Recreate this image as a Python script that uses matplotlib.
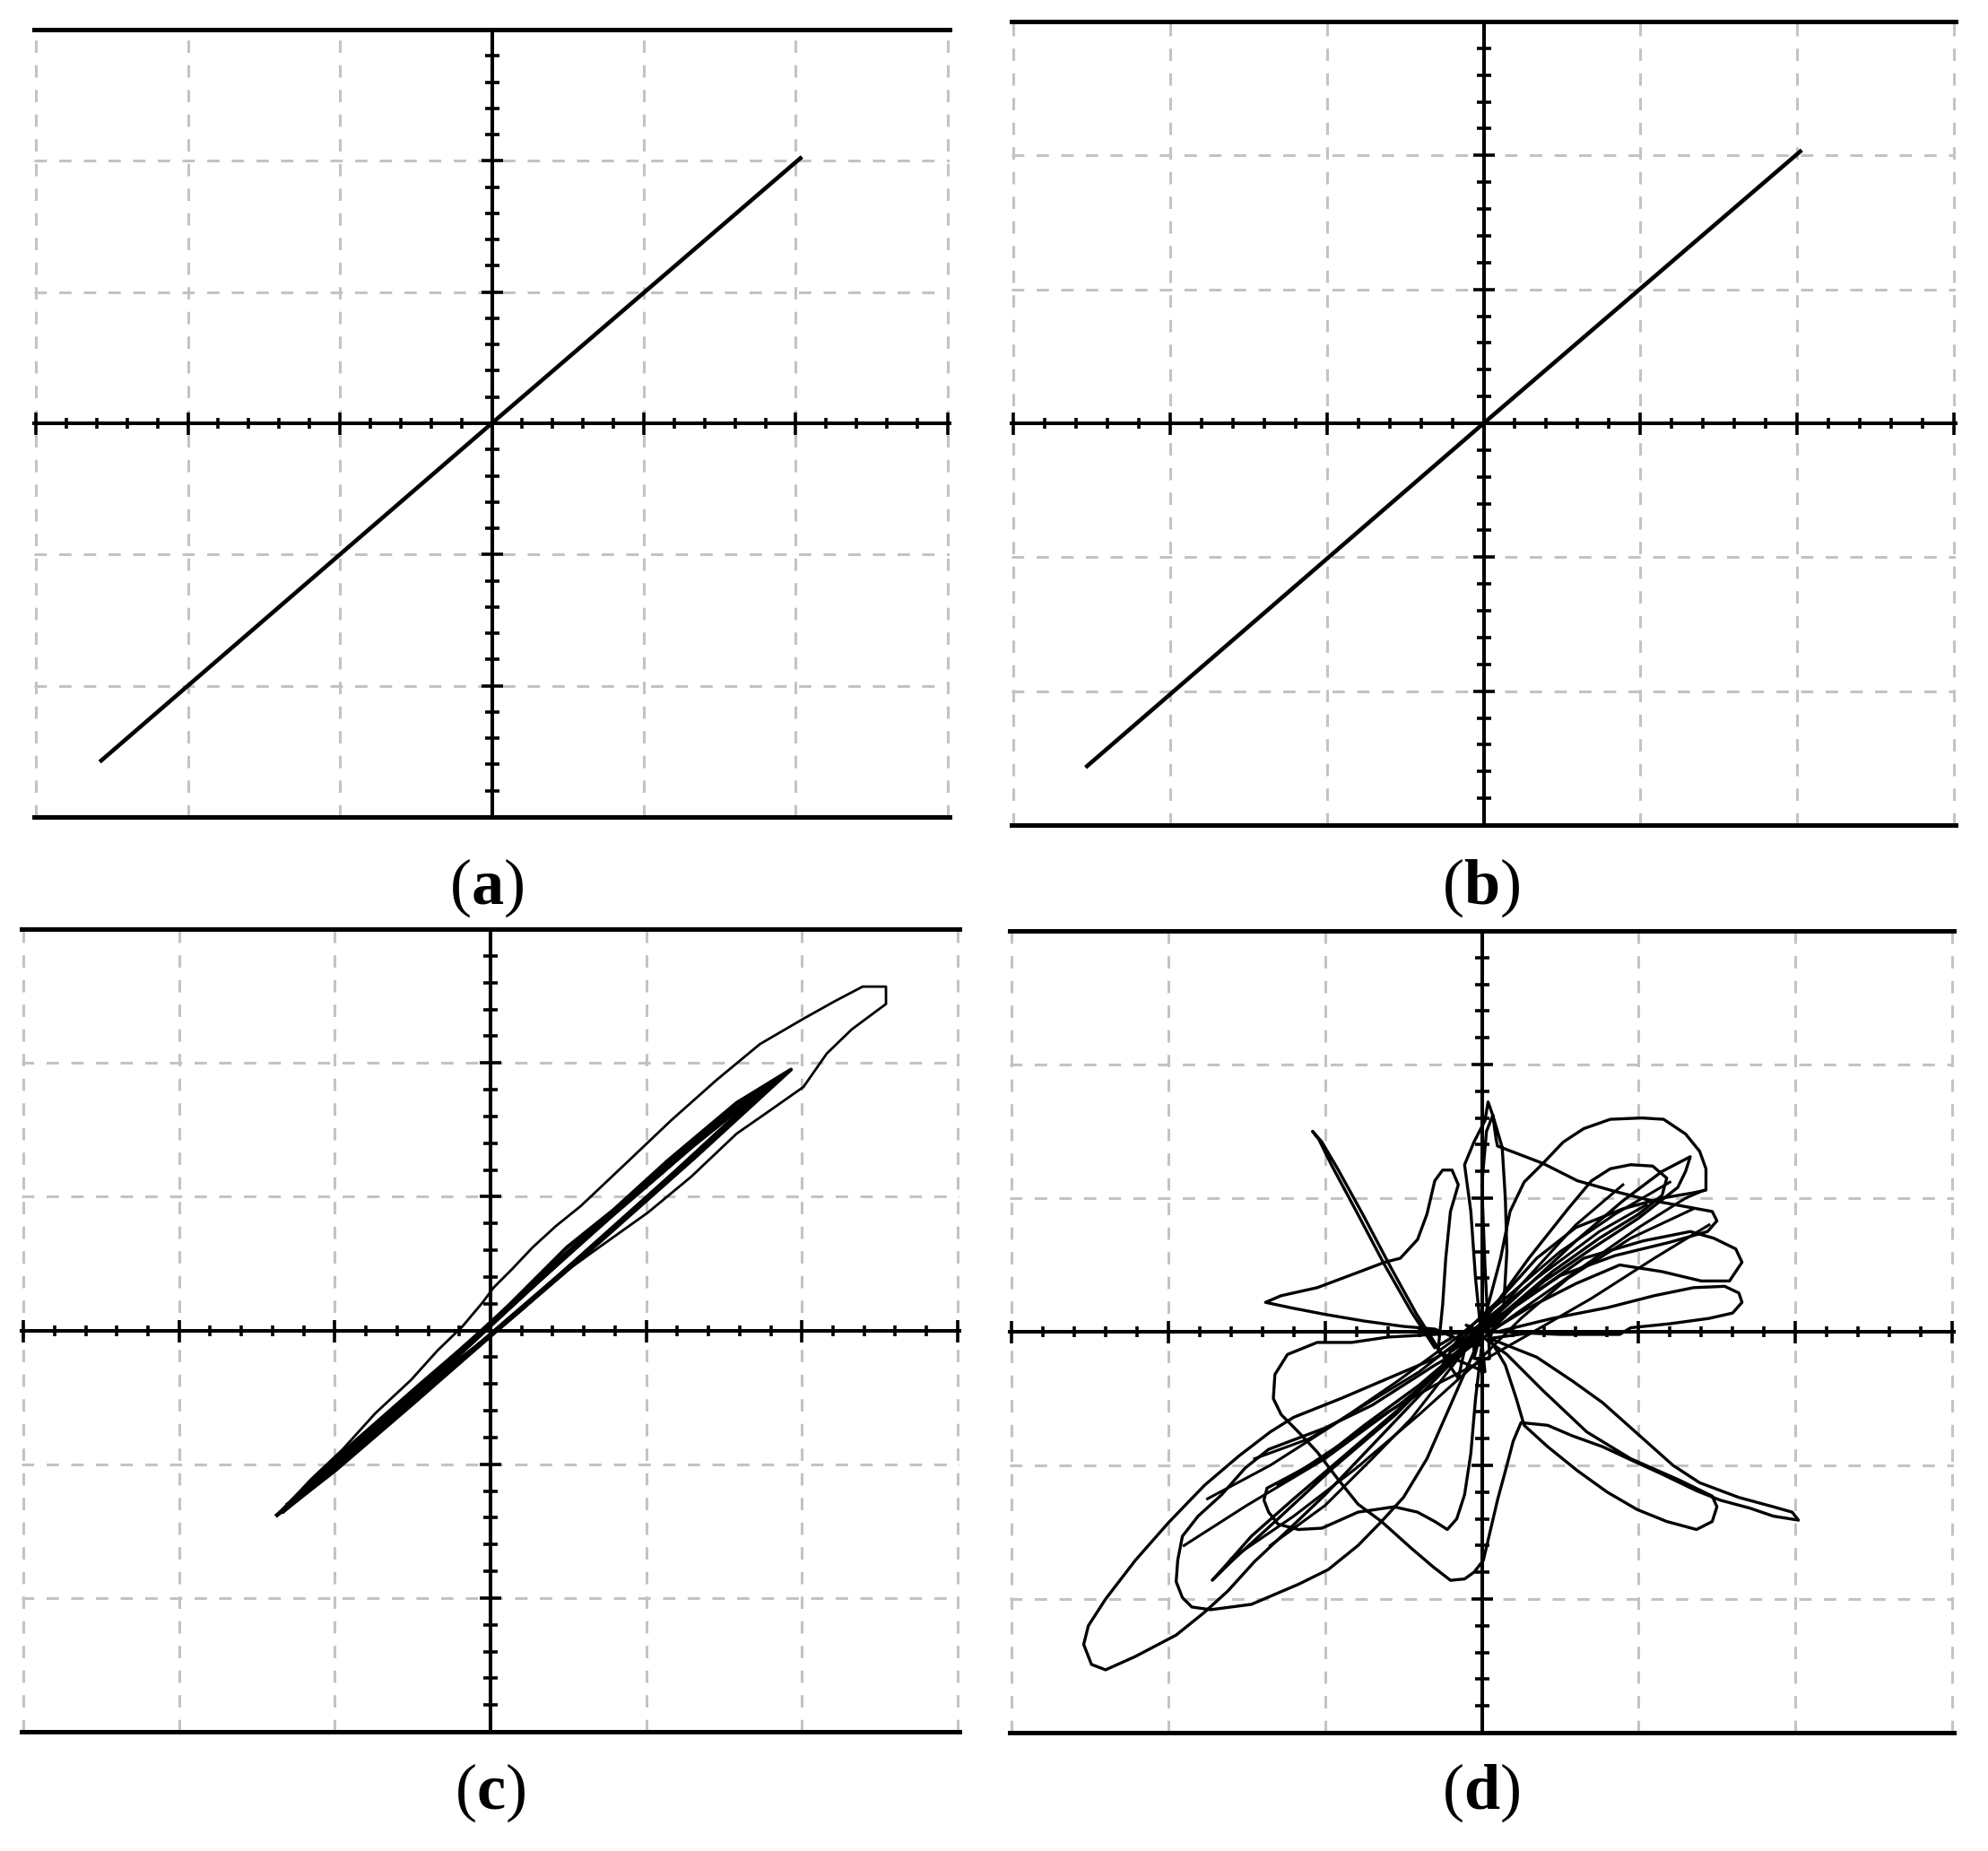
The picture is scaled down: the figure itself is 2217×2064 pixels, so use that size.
import matplotlib
matplotlib.use("Agg")
import matplotlib.pyplot as plt
from matplotlib.ticker import MultipleLocator, NullFormatter

plt.rcParams["font.family"] = ["Liberation Serif", "DejaVu Serif"]
plt.rcParams["mathtext.fontset"] = "custom"
plt.rcParams["mathtext.rm"] = "Liberation Serif"
plt.rcParams["mathtext.bf"] = "Liberation Serif:bold"

# ---- data (grid units, one dashed cell = 1) ----
a_x = [-2.57, 0.0, 2.03]
a_y = [-2.57, 0.0, 2.02]

b_x = [-2.53, 0.0, 2.02]
b_y = [-2.56, 0.0, 2.03]

# (c) outer hysteresis loop
c_outer = [(-1.37, -1.38), (-1.15, -1.11), (-0.95, -0.89), (-0.74, -0.62), (-0.51, -0.37),
           (-0.34, -0.15), (-0.18, 0.03), (-0.05, 0.21), (0.02, 0.32), (0.14, 0.46),
           (0.27, 0.62), (0.42, 0.78), (0.58, 0.93), (0.88, 1.26), (1.16, 1.57),
           (1.45, 1.87), (1.73, 2.14), (2.01, 2.33), (2.21, 2.46), (2.39, 2.57),
           (2.54, 2.57), (2.54, 2.44), (2.47, 2.38), (2.32, 2.25), (2.16, 2.07),
           (2.01, 1.82), (1.79, 1.64), (1.58, 1.47), (1.29, 1.15), (1.01, 0.88),
           (0.66, 0.59), (0.40, 0.37), (0.10, 0.06), (-0.30, -0.30), (-0.70, -0.70),
           (-1.00, -1.02), (-1.20, -1.22), (-1.37, -1.38)]
# (c) dense inner band: narrow loops
c_band_a = [(-1.37, -1.38), (-0.90, -0.86), (-0.45, -0.40), (0.00, 0.05), (0.49, 0.62),
            (0.79, 0.90), (1.14, 1.27), (1.58, 1.70), (1.93, 1.95), (1.77, 1.78),
            (1.32, 1.30), (1.01, 0.98), (0.70, 0.66), (0.40, 0.36), (0.00, -0.04),
            (-0.50, -0.55), (-1.00, -1.05), (-1.37, -1.38)]
c_band_b = [(-1.30, -1.30), (-0.80, -0.77), (-0.30, -0.26), (0.20, 0.27), (0.70, 0.80),
            (1.20, 1.30), (1.60, 1.68), (1.86, 1.89), (1.65, 1.68), (1.20, 1.20),
            (0.70, 0.68), (0.20, 0.16), (-0.30, -0.33), (-0.80, -0.84), (-1.30, -1.30)]
c_band_c = [(-1.22, -1.22), (-0.70, -0.68), (-0.20, -0.18), (0.30, 0.36), (0.80, 0.88),
            (1.30, 1.38), (1.75, 1.80), (1.55, 1.56), (1.05, 1.03), (0.55, 0.52),
            (0.05, 0.02), (-0.45, -0.48), (-0.95, -0.97), (-1.22, -1.22)]
c_band_d = [(-1.33, -1.35), (-0.85, -0.83), (-0.35, -0.31), (0.15, 0.20), (0.65, 0.73),
            (1.10, 1.18), (1.50, 1.60), (1.80, 1.84), (1.48, 1.50), (0.98, 0.96),
            (0.48, 0.44), (-0.02, -0.06), (-0.55, -0.59), (-1.05, -1.09), (-1.33, -1.35)]

# (d) chaotic trajectory, traced stroke by stroke
d_spike_nw = [(-0.20, -0.05), (-0.30, -0.12), (-0.45, 0.15), (-0.62, 0.50), (-0.80, 0.90),
              (-0.96, 1.25), (-1.04, 1.44), (-1.08, 1.50), (-1.02, 1.42), (-0.92, 1.22),
              (-0.76, 0.88), (-0.58, 0.48), (-0.42, 0.14), (-0.28, -0.12), (-0.15, -0.35)]
d_lobe_w = [(-0.10, -0.08), (-0.30, 0.02), (-0.50, 0.04), (-0.75, 0.08), (-1.00, 0.13),
            (-1.22, 0.18), (-1.38, 0.22), (-1.28, 0.27), (-1.05, 0.33), (-0.80, 0.44),
            (-0.62, 0.52), (-0.52, 0.55), (-0.41, 0.69), (-0.35, 0.88), (-0.30, 1.13),
            (-0.25, 1.21), (-0.19, 1.21), (-0.15, 1.10), (-0.20, 0.90), (-0.23, 0.55),
            (-0.25, 0.20), (-0.28, -0.15)]
d_spike_n = [(0.02, -0.30), (-0.04, 0.40), (-0.07, 0.90), (-0.11, 1.25), (-0.05, 1.42),
             (0.02, 1.58), (0.04, 1.72), (0.07, 1.62), (0.09, 1.45), (0.10, 1.39),
             (0.39, 1.26), (0.61, 1.13), (0.85, 1.05), (1.05, 0.99), (1.33, 0.93),
             (1.47, 0.90), (1.50, 0.83), (1.44, 0.75), (1.20, 0.67), (0.85, 0.57),
             (0.50, 0.42), (0.22, 0.20), (-0.05, -0.12)]
d_spike_n2 = [(0.00, 0.05), (0.14, 0.20), (0.16, 0.60), (0.15, 1.00), (0.13, 1.38),
              (0.07, 1.62), (0.03, 1.50), (0.00, 1.10), (0.02, 0.50), (0.05, -0.20)]
d_dome = [(-0.05, -0.20), (0.12, 0.55), (0.18, 0.90), (0.27, 1.12), (0.39, 1.26),
          (0.52, 1.42), (0.65, 1.52), (0.82, 1.59), (1.02, 1.60), (1.16, 1.59),
          (1.30, 1.48), (1.39, 1.35), (1.43, 1.22), (1.43, 1.06), (1.35, 1.04),
          (1.15, 1.00), (0.90, 0.92), (0.60, 0.78), (0.35, 0.55), (0.12, 0.25), (-0.15, -0.05)]
d_arrow = [(-0.25, -0.25), (0.30, 0.35), (0.60, 0.68), (0.90, 0.98), (1.15, 1.20),
           (1.33, 1.31), (1.30, 1.20), (1.25, 1.08), (1.00, 0.85), (0.70, 0.62),
           (0.40, 0.38), (0.10, 0.08)]
d_lobe_ne1 = [(-0.10, -0.10), (0.30, 0.55), (0.55, 0.92), (0.70, 1.13), (0.82, 1.22),
              (0.95, 1.25), (1.09, 1.24), (1.18, 1.15), (1.15, 1.02), (1.00, 0.88),
              (0.75, 0.70), (0.45, 0.45), (0.15, 0.15)]
d_lobe_ne2 = [(-0.20, -0.15), (0.35, 0.30), (0.65, 0.55), (1.03, 0.68), (1.33, 0.75),
              (1.48, 0.70), (1.62, 0.62), (1.66, 0.52), (1.58, 0.38), (1.40, 0.38),
              (1.15, 0.45), (0.88, 0.50), (0.60, 0.36), (0.30, 0.18), (0.05, 0.00)]
d_lobe_ne3 = [(0.10, 0.00), (0.45, 0.10), (0.80, 0.18), (1.10, 0.27), (1.35, 0.33),
              (1.55, 0.34), (1.64, 0.29), (1.66, 0.22), (1.60, 0.14), (1.45, 0.10),
              (1.20, 0.06), (0.95, 0.03), (0.88, -0.02), (0.50, -0.02), (0.30, -0.01)]
d_spike_se = [(0.05, -0.05), (0.20, -0.12), (0.35, -0.19), (0.58, -0.37), (0.77, -0.53),
              (0.99, -0.76), (1.22, -1.00), (1.39, -1.13), (1.64, -1.24), (1.86, -1.31),
              (1.98, -1.35), (2.02, -1.41), (1.86, -1.38), (1.71, -1.32), (1.52, -1.26),
              (1.37, -1.19), (1.14, -1.06), (0.99, -0.98), (0.77, -0.86), (0.58, -0.78),
              (0.42, -0.70), (0.25, -0.68), (0.20, -0.82), (0.16, -1.00), (0.10, -1.26),
              (0.05, -1.51), (0.01, -1.71), (-0.05, -1.80), (-0.11, -1.85), (-0.20, -1.86),
              (-0.31, -1.76), (-0.45, -1.62), (-0.64, -1.42), (-0.79, -1.29), (-0.92, -1.10),
              (-1.05, -0.90), (-1.17, -0.75), (-1.28, -0.62), (-1.33, -0.50), (-1.32, -0.32),
              (-1.24, -0.17), (-1.05, -0.08), (-0.83, -0.08), (-0.60, -0.04), (-0.30, -0.02),
              (0.00, 0.00)]
d_lobe_se2 = [(-0.10, 0.05), (0.16, -0.17), (0.39, -0.44), (0.67, -0.75), (0.95, -0.95),
              (1.26, -1.11), (1.47, -1.23), (1.50, -1.31), (1.47, -1.42), (1.37, -1.48),
              (1.18, -1.42), (0.99, -1.33), (0.80, -1.20), (0.61, -1.04), (0.42, -0.86),
              (0.27, -0.70), (0.22, -0.50), (0.15, -0.25), (0.05, -0.05)]
d_ellipse_big = [(0.10, 0.10), (-0.30, -0.20), (-0.60, -0.35), (-0.90, -0.50), (-1.20, -0.64),
                 (-1.35, -0.75), (-1.55, -0.93), (-1.77, -1.15), (-2.00, -1.43), (-2.21, -1.71),
                 (-2.40, -2.00), (-2.51, -2.20), (-2.54, -2.34), (-2.49, -2.49), (-2.40, -2.53),
                 (-2.21, -2.43), (-1.95, -2.27), (-1.77, -2.10), (-1.62, -1.94), (-1.45, -1.72),
                 (-1.25, -1.50), (-1.00, -1.22), (-0.70, -0.85), (-0.40, -0.48), (-0.10, -0.12)]
d_ellipse_2 = [(0.00, -0.05), (-0.30, -0.25), (-0.70, -0.55), (-1.00, -0.72), (-1.36, -0.88),
               (-1.51, -1.02), (-1.66, -1.22), (-1.81, -1.38), (-1.91, -1.53), (-1.94, -1.71),
               (-1.95, -1.87), (-1.91, -1.99), (-1.85, -2.06), (-1.73, -2.08), (-1.47, -2.04),
               (-1.17, -1.89), (-0.98, -1.78), (-0.79, -1.60), (-0.64, -1.42), (-0.50, -1.24),
               (-0.35, -0.95), (-0.20, -0.55), (-0.05, -0.15)]
d_lobe_sw3 = [(-0.05, -0.05), (-0.40, -0.40), (-0.75, -0.70), (-1.02, -0.95), (-1.24, -1.09),
              (-1.37, -1.17), (-1.39, -1.26), (-1.36, -1.35), (-1.30, -1.44), (-1.17, -1.48),
              (-1.02, -1.47), (-0.79, -1.35), (-0.56, -1.31), (-0.41, -1.35), (-0.30, -1.42),
              (-0.22, -1.48), (-0.16, -1.40), (-0.11, -1.22), (-0.07, -0.91), (-0.04, -0.50),
              (0.00, -0.10)]
d_line_sw = [(-0.10, -0.10), (-0.50, -0.55), (-0.90, -0.95), (-1.20, -1.25), (-1.47, -1.53),
             (-1.62, -1.73), (-1.72, -1.86), (-1.58, -1.70), (-1.30, -1.40), (-0.95, -1.02),
             (-0.55, -0.62), (-0.15, -0.15)]
d_diag_1 = [(-1.90, -1.60), (-1.50, -1.30), (-1.00, -0.95), (-0.50, -0.52), (-0.15, -0.18),
            (0.20, 0.12), (0.60, 0.45), (1.00, 0.78), (1.30, 1.00), (1.42, 1.06)]
d_diag_2 = [(-1.60, -1.70), (-1.20, -1.38), (-0.80, -1.02), (-0.40, -0.62), (-0.05, -0.25),
            (0.25, 0.10), (0.55, 0.40), (0.95, 0.70), (1.35, 0.92)]
d_diag_3 = [(-1.75, -1.25), (-1.35, -1.00), (-0.95, -0.70), (-0.55, -0.38), (-0.20, -0.08),
            (0.15, 0.25), (0.50, 0.60), (0.85, 0.88), (1.20, 1.12)]
d_diag_4 = [(-1.35, -1.60), (-1.00, -1.30), (-0.70, -0.95), (-0.45, -0.65), (-0.25, -0.35),
            (-0.05, -0.05), (0.25, 0.35), (0.60, 0.80), (0.90, 1.10)]
d_diag_5 = [(-1.45, -0.95), (-1.10, -0.80), (-0.75, -0.55), (-0.40, -0.30), (-0.05, 0.02),
            (0.35, 0.40), (0.75, 0.75), (1.05, 0.95)]
d_diag_6 = [(-1.30, -1.15), (-0.95, -0.88), (-0.60, -0.60), (-0.30, -0.40), (0.00, -0.22),
            (0.30, -0.02), (0.70, 0.25), (1.10, 0.55), (1.45, 0.80)]

d_path = [d_spike_nw, d_lobe_w, d_spike_n, d_spike_n2, d_dome, d_arrow, d_lobe_ne1,
          d_lobe_ne2, d_lobe_ne3, d_spike_se, d_lobe_se2, d_ellipse_big, d_ellipse_2,
          d_lobe_sw3, d_line_sw]
d_extra = [d_diag_1, d_diag_2, d_diag_3, d_diag_4, d_diag_5, d_diag_6]

labels = ["a", "b", "c", "d"]

# ---- layout (pixel boxes of the four scopes) ----
W, H = 2217, 2064
boxes = {
    "a": (38, 33, 1059, 911),
    "b": (1128, 24, 2181, 920),
    "c": (24, 1036, 1070, 1931),
    "d": (1126, 1038, 2179, 1932),
}
label_pos = {"a": (543, 990), "b": (1652, 990), "c": (547, 1999), "d": (1652, 1999)}

fig = plt.figure(figsize=(W / 100, H / 100), dpi=100)


def scope(box):
    x0, y0, x1, y1 = box
    ax = fig.add_axes([x0 / W, 1 - y1 / H, (x1 - x0) / W, (y1 - y0) / H])
    ax.set_xlim(-3.012, 3.012)
    ax.set_ylim(-3.0, 3.0)
    for s in ["top", "right"]:
        ax.spines[s].set_visible(False)
    ax.spines["left"].set_position("zero")
    ax.spines["bottom"].set_position("zero")
    ax.spines["left"].set_linewidth(2.9)
    ax.spines["bottom"].set_linewidth(2.9)
    for axis in [ax.xaxis, ax.yaxis]:
        axis.set_major_locator(MultipleLocator(1))
        axis.set_minor_locator(MultipleLocator(0.2))
        axis.set_major_formatter(NullFormatter())
    ax.tick_params(axis="x", which="major", direction="inout", length=18, width=2.6)
    ax.tick_params(axis="x", which="minor", direction="inout", length=9, width=2.6)
    ax.tick_params(axis="y", which="major", direction="inout", length=17, width=2.6)
    ax.tick_params(axis="y", which="minor", direction="inout", length=11.5, width=2.6)
    ax.grid(True, which="major", color="#c3c3c3", linewidth=2.2,
            linestyle=(0, (4.5, 4.5)))
    ax.set_axisbelow(True)
    ax.axhline(3.0, color="black", linewidth=3.6, clip_on=False, zorder=5)
    ax.axhline(-3.0, color="black", linewidth=3.6, clip_on=False, zorder=5)
    ax.set_facecolor("none")
    return ax


axes = {k: scope(boxes[k]) for k in labels}

axes["a"].plot(a_x, a_y, color="black", linewidth=3.3, zorder=3)
axes["b"].plot(b_x, b_y, color="black", linewidth=3.3, zorder=3)

for loop, lw in [(c_outer, 2.0), (c_band_a, 3.0), (c_band_b, 3.4), (c_band_c, 3.4),
                 (c_band_d, 3.4)]:
    axes["c"].plot([p[0] for p in loop], [p[1] for p in loop], color="black",
                   linewidth=lw, zorder=3)

d_x = [p[0] for s in d_path for p in s]
d_y = [p[1] for s in d_path for p in s]
axes["d"].plot(d_x, d_y, color="black", linewidth=2.4, zorder=3)
for s in d_extra:
    axes["d"].plot([p[0] for p in s], [p[1] for p in s], color="black",
                   linewidth=2.2, zorder=3)

for k in labels:
    x, y = label_pos[k]
    fig.text(x / W, 1 - y / H, "($\\mathbf{%s}$)" % k, ha="center", va="center",
             fontsize=52, color="black")

fig.savefig("out.png", dpi=100)
